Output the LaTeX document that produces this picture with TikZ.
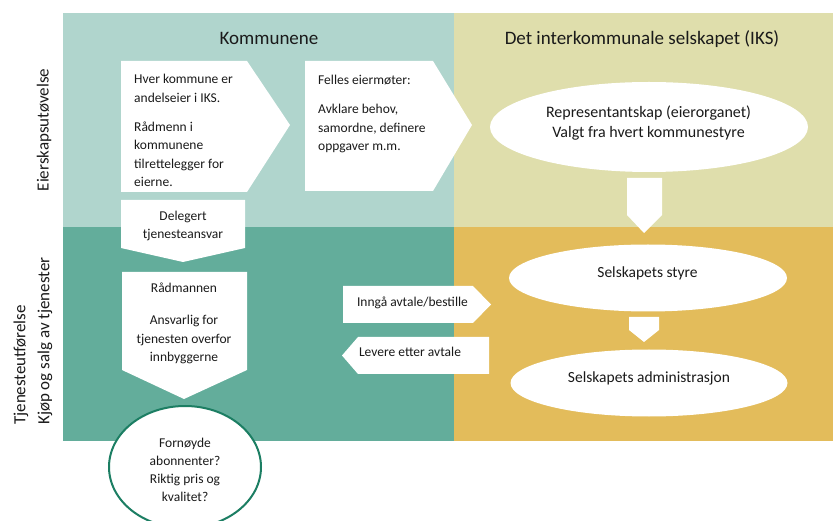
\documentclass[tikz,border=0pt]{standalone}
\usepackage{fontspec}
\setmainfont{Carlito}
\usetikzlibrary{positioning,shapes.geometric}

\definecolor{ownlight}{HTML}{B0D5CD}
\definecolor{ikslight}{HTML}{DFDEAC}
\definecolor{owndark}{HTML}{63AD9B}
\definecolor{iksdark}{HTML}{E3BC5B}
\definecolor{ringgreen}{HTML}{1C7E63}
\definecolor{ink}{HTML}{1A1A1A}

\begin{document}
\begin{tikzpicture}[x=1pt,y=-1pt,
		txt/.style={inner sep=0pt, text=ink, font=\fontsize{13.5}{18.5}\selectfont, align=left},
		ctxt/.style={txt, align=center},
		otxt/.style={ctxt, font=\fontsize{15.5}{20}\selectfont},
		head/.style={inner sep=0pt, text=ink, font=\fontsize{19}{24}\selectfont},
		side/.style={inner sep=0pt, text=ink, font=\fontsize{17}{24}\selectfont, rotate=90},
		oval/.style={ellipse, fill=white, inner sep=0pt},
		plate/.style={fill=white}]
		\useasboundingbox (0,0) rectangle (833,521);

		% the four fields
		\fill[ownlight] (63,13) rectangle (454,227);
		\fill[ikslight] (454,13) rectangle (833,227);
		\fill[owndark] (63,227) rectangle (454,441);
		\fill[iksdark] (454,227) rectangle (833,441);

		% headings
		\node[head, anchor=base] (komm) at (269,45) {Kommunene};
		\node[head, anchor=base] (iks) at (642,45) {Det interkommunale selskapet (IKS)};
		\node[side] (eierlab) at (44,130) {Eierskapsutøvelse};
		\node[side, anchor=west, align=left] (tjenlab) at (33,425)
			{Tjenesteutførelse\\Kjøp og salg av tjenester};

		% arrow plates
		\fill[plate] (121,61) -- (247,61) -- (290,125) -- (247,192) -- (121,192) -- cycle;
		\fill[plate] (305,61) -- (433,61) -- (472,125) -- (433,191) -- (305,191) -- cycle;
		\fill[plate] (121,200) -- (245,200) -- (245,248) -- (183,262) -- (121,248) -- cycle;
		\fill[plate] (122,272) -- (247,272) -- (247,370) -- (184,399) -- (122,370) -- cycle;
		\fill[plate] (343,286) -- (473,286) -- (491,304.5) -- (473,323) -- (343,323) -- cycle;
		\fill[plate] (358,337) -- (489,337) -- (489,374) -- (358,374) -- (342,355.5) -- cycle;
		\fill[plate] (627,178) -- (662,178) -- (662,215) -- (644,233) -- (627,215) -- cycle;
		\fill[plate] (629,317) -- (659,317) -- (659,330) -- (644,342) -- (629,330) -- cycle;

		% ovals
		\node[oval, minimum width=318pt, minimum height=90pt] (rep) at (649,127) {};
		\node[oval, minimum width=278pt, minimum height=67pt] (styre) at (648,278) {};
		\node[oval, minimum width=277pt, minimum height=67pt] (adm) at (649,383) {};
		\node[oval, draw=ringgreen, line width=2pt, minimum width=152pt, minimum height=122pt] (ring) at (185,467) {};

		% texts (base = last line)
		\node[txt, anchor=base west] (eier) at (134,187)
			{Hver kommune er\\andelseier i IKS.\\[10.5pt]Rådmenn i\\kommunene\\tilrettelegger for\\eierne.};
		\node[txt, anchor=base west] (felles) at (318,151)
			{Felles eiermøter:\\[10.5pt]Avklare behov,\\samordne, definere\\oppgaver m.m.};
		\node[ctxt, anchor=base] (deleg) at (183,239) {Delegert\\tjenesteansvar};
		\node[ctxt, anchor=base] (radm) at (184,362)
			{Rådmannen\\[13.5pt]Ansvarlig for\\tjenesten overfor\\innbyggerne};
		\node[ctxt, anchor=base] (avtale) at (412.5,307) {Inngå avtale/bestille};
		\node[ctxt, anchor=base] (levere) at (410,357) {Levere etter avtale};
		\node[otxt, anchor=base, font=\fontsize{16}{20}\selectfont] (reptxt) at (648.5,138)
			{Representantskap (eierorganet)\\Valgt fra hvert kommunestyre};
		\node[otxt, anchor=base] (styretxt) at (647.5,278) {Selskapets styre};
		\node[otxt, anchor=base] (admtxt) at (649,383) {Selskapets administrasjon};
		\node[ctxt, anchor=base, font=\fontsize{13.5}{18}\selectfont] (ringtxt) at (185,501)
			{Fornøyde\\abonnenter?\\Riktig pris og\\kvalitet?};
\end{tikzpicture}
\end{document}
